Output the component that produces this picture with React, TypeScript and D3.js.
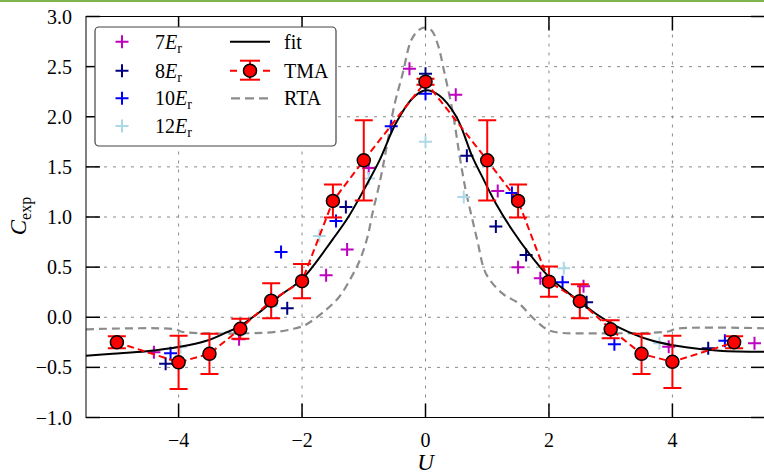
import React from "react";
import * as d3 from "d3";

// ---------- data ----------
const xTicks = [-4, -2, 0, 2, 4];
const yTicks = [-1.0, -0.5, 0.0, 0.5, 1.0, 1.5, 2.0, 2.5, 3.0];

const tmaU = [-5, -4, -3.5, -3, -2.5, -2, -1.5, -1, 0, 1, 1.5, 2, 2.5, 3, 3.5, 4, 5];
const tmaC = [-0.25, -0.45, -0.365, -0.115, 0.165, 0.36, 1.16, 1.565, 2.35, 1.565, 1.16, 0.355, 0.16, -0.12, -0.365, -0.445, -0.25];
const tmaErr = [0.06, 0.265, 0.2, 0.1, 0.175, 0.17, 0.165, 0.4, 0.03, 0.4, 0.165, 0.15, 0.17, 0.09, 0.2, 0.26, 0.06];

const e7U = [-4.4, -3.02, -1.61, -1.27, -0.92, -0.26, 0.49, 1.17, 1.5, 1.86, 2.56, 3.94, 5.33];
const e7C = [-0.35, -0.22, 0.42, 0.675, 1.49, 2.48, 2.22, 1.26, 0.5, 0.39, 0.31, -0.295, -0.26];
const e8U = [-4.21, -2.24, -1.29, 0, 0.67, 1.14, 1.63, 2.61, 4.58];
const e8C = [-0.465, 0.09, 1.1, 2.43, 1.61, 0.905, 0.62, 0.15, -0.31];
const e10U = [-4.13, -2.34, -1.45, -0.555, 0, 1.4, 2.22, 3.06, 4.85];
const e10C = [-0.36, 0.65, 0.96, 1.905, 2.23, 1.24, 0.35, -0.27, -0.235];
const e12U = [-3.97, -2.5, -1.72, -0.92, 0, 0.62, 2.24, 3.79];
const e12C = [-0.3, 0.11, 0.81, 1.385, 1.75, 1.2, 0.49, -0.26];

const fitU = [-5.5, -5.07, -4.52, -3.98, -3.55, -3.22, -3.01, -2.69, -2.36, -2.0, -1.5, -1.25, -1.0, -0.745, -0.48, -0.21, 0, 0.22, 0.5, 0.76, 0.92, 1.14, 1.41, 1.68, 1.99, 2.33, 2.76, 3.13, 3.68, 4.22, 4.76, 5.5];
const fitC = [-0.385, -0.365, -0.34, -0.295, -0.235, -0.15, -0.09, 0.05, 0.215, 0.38, 0.78, 1.0, 1.27, 1.565, 1.935, 2.185, 2.265, 2.215, 2.0, 1.6, 1.4, 1.135, 0.865, 0.635, 0.41, 0.235, 0.035, -0.1, -0.235, -0.3, -0.335, -0.345];

const rtaU = [-5.5, -4.05, -3.95, -2.5, -2.1, -1.94, -1.61, -1.39, -1.21, -1.07, -0.94, -0.86, -0.745, -0.64, -0.51, -0.37, -0.23, -0.1, 0, 0.1, 0.2, 0.31, 0.44, 0.55, 0.65, 0.75, 0.84, 0.98, 1.25, 1.52, 1.73, 1.95, 2.12, 2.87, 3.95, 4.05, 5.5];
const rtaC = [-0.12, -0.12, -0.145, -0.15, -0.11, -0.075, 0.075, 0.21, 0.39, 0.56, 0.8, 1.035, 1.335, 1.665, 2.1, 2.43, 2.765, 2.87, 2.89, 2.86, 2.72, 2.43, 2.05, 1.62, 1.27, 1.0, 0.765, 0.435, 0.235, 0.135, 0.0, -0.115, -0.15, -0.16, -0.14, -0.115, -0.11];

const crossSeries = [
  { label: "7", u: e7U, c: e7C, color: "#bf00bf" },
  { label: "8", u: e8U, c: e8C, color: "#000080" },
  { label: "10", u: e10U, c: e10C, color: "#0000ff" },
  { label: "12", u: e12U, c: e12C, color: "#add8e6" },
];

// ---------- layout ----------
const W = 764;
const H = 474;
const x = d3.scaleLinear().domain([-5.5, 5.5]).range([86, 765]);
const y = d3.scaleLinear().domain([-1, 3]).range([417.5, 16.5]);
const FONT = "'Liberation Serif', 'DejaVu Serif', serif";
const crossPath = "M-6.5,0H6.5M0,-6.5V6.5";

export default function App() {
  const [x0, x1] = x.range();
  const [yb, yt] = y.range();
  const smoothLine = d3
    .line<[number, number]>()
    .x((d) => x(d[0]))
    .y((d) => y(d[1]))
    .curve(d3.curveCatmullRom.alpha(0.5));
  const fitPath = smoothLine(fitU.map((u, i) => [u, fitC[i]]) as [number, number][]) || "";
  const rtaPath = smoothLine(rtaU.map((u, i) => [u, rtaC[i]]) as [number, number][]) || "";
  const tmaPath = d3
    .line<[number, number]>()
    .x((d) => x(d[0]))
    .y((d) => y(d[1]))(tmaU.map((u, i) => [u, tmaC[i]]) as [number, number][]) || "";

  const fmt = (v: number) => (v < 0 ? "\u2212" : "") + Math.abs(v).toFixed(1);
  const fmtX = (v: number) => (v < 0 ? "\u2212" : "") + Math.abs(v).toString();

  // legend
  const lgX = 95, lgY = 27, lgW = 241, lgH = 119;
  const rows = [41.7, 70.7, 98.3, 126];

  return (
    <div style={{ position: "absolute", left: 0, top: 0 }}>
      <svg width={W} height={H} style={{ display: "block", background: "#fff" }} fontFamily={FONT}>
        <rect x={0} y={0} width={W} height={H} fill="#fff" />
        <rect x={0} y={0} width={W} height={2} fill="#7fb34d" />
        <defs>
          <clipPath id="plot">
            <rect x={x0} y={yt} width={x1 - x0} height={yb - yt} />
          </clipPath>
        </defs>
        {/* grid */}
        <g stroke="#8a8a8a" strokeWidth={1} strokeDasharray="3,6">
          {xTicks.map((t) => (
            <line key={"gx" + t} x1={x(t)} x2={x(t)} y1={yt} y2={yb} />
          ))}
          {yTicks.map((t) => (
            <line key={"gy" + t} x1={x0} x2={x1} y1={y(t)} y2={y(t)} />
          ))}
        </g>
        <g clipPath="url(#plot)">
          {/* RTA */}
          <path d={rtaPath} fill="none" stroke="#8c8c8c" strokeWidth={2.2} strokeDasharray="8,5" />
          {/* crosses */}
          {crossSeries.map((s) => (
            <g key={s.label} stroke={s.color} strokeWidth={2}>
              {s.u.map((u, i) => (
                <path key={i} d={crossPath} transform={`translate(${x(u)},${y(s.c[i])})`} />
              ))}
            </g>
          ))}
          {/* fit */}
          <path d={fitPath} fill="none" stroke="#000" strokeWidth={2} />
          {/* TMA */}
          <path d={tmaPath} fill="none" stroke="#ff0000" strokeWidth={2} strokeDasharray="7,4" />
          <g stroke="#ff0000" strokeWidth={2}>
            {tmaU.map((u, i) => {
              const cx = x(u);
              const ya = y(tmaC[i] + tmaErr[i]);
              const yb2 = y(tmaC[i] - tmaErr[i]);
              return (
                <g key={i}>
                  <line x1={cx} x2={cx} y1={ya} y2={yb2} />
                  <line x1={cx - 9} x2={cx + 9} y1={ya} y2={ya} />
                  <line x1={cx - 9} x2={cx + 9} y1={yb2} y2={yb2} />
                </g>
              );
            })}
          </g>
          {tmaU.map((u, i) => (
            <circle key={i} cx={x(u)} cy={y(tmaC[i])} r={6.5} fill="#ff0000" stroke="#000" strokeWidth={1.5} />
          ))}
        </g>
        {/* spines */}
        <rect x={x0} y={yt} width={x1 - x0} height={yb - yt} fill="none" stroke="#000" strokeWidth={1} />
        {/* ticks */}
        <g stroke="#000" strokeWidth={1.5}>
          {yTicks.map((t) => (
            <g key={"ty" + t}>
              <line x1={x0} x2={x0 + 14} y1={y(t)} y2={y(t)} />
              <line x1={x1 - 14} x2={x1} y1={y(t)} y2={y(t)} />
            </g>
          ))}
          {xTicks.map((t) => (
            <g key={"tx" + t}>
              <line x1={x(t)} x2={x(t)} y1={yb} y2={yb - 14} />
              <line x1={x(t)} x2={x(t)} y1={yt} y2={yt + 14} />
            </g>
          ))}
        </g>
        {/* tick labels */}
        <g fontSize={20} fill="#000">
          {yTicks.map((t) => (
            <text key={"ly" + t} x={72} y={y(t)} dy="0.35em" textAnchor="end">
              {fmt(t)}
            </text>
          ))}
          {xTicks.map((t) => (
            <text key={"lx" + t} x={x(t)} y={447} textAnchor="middle">
              {fmtX(t)}
            </text>
          ))}
        </g>
        {/* axis labels */}
        <text x={x(0)} y={470} textAnchor="middle" fontSize={23} fontStyle="italic">
          U
        </text>
        <text transform="translate(26,216) rotate(-90)" textAnchor="middle" fontSize={23}>
          <tspan fontStyle="italic">C</tspan>
          <tspan fontSize={16} dy={5}>exp</tspan>
        </text>
        {/* legend */}
        <rect x={lgX} y={lgY} width={lgW} height={lgH} rx={4} fill="#fff" stroke="#444" strokeWidth={1.2} />
        {crossSeries.map((s, i) => (
          <g key={"lg" + s.label}>
            <path d={crossPath} transform={`translate(122,${rows[i]})`} stroke={s.color} strokeWidth={2} />
            <text x={155} y={rows[i] + 7} fontSize={20}>
              {s.label}
              <tspan fontStyle="italic">E</tspan>
              <tspan fontSize={14} dy={4}>r</tspan>
            </text>
          </g>
        ))}
        <line x1={230} x2={270} y1={rows[0]} y2={rows[0]} stroke="#000" strokeWidth={2} />
        <text x={284} y={rows[0] + 7} fontSize={20}>fit</text>
        <line x1={230} x2={270} y1={rows[1]} y2={rows[1]} stroke="#ff0000" strokeWidth={2} strokeDasharray="7,26" />
        <g stroke="#ff0000" strokeWidth={2}>
          <line x1={250} x2={250} y1={rows[1] - 10} y2={rows[1] + 9} />
          <line x1={240} x2={260} y1={rows[1] - 10} y2={rows[1] - 10} />
          <line x1={240} x2={260} y1={rows[1] + 9} y2={rows[1] + 9} />
        </g>
        <circle cx={250} cy={rows[1]} r={6.5} fill="#ff0000" stroke="#000" strokeWidth={1.5} />
        <text x={284} y={rows[1] + 7} fontSize={20}>TMA</text>
        <line x1={231} x2={270} y1={rows[2]} y2={rows[2]} stroke="#8c8c8c" strokeWidth={2.2} strokeDasharray="9,5" />
        <text x={284} y={rows[2] + 7} fontSize={20}>RTA</text>
      </svg>
    </div>
  );
}
